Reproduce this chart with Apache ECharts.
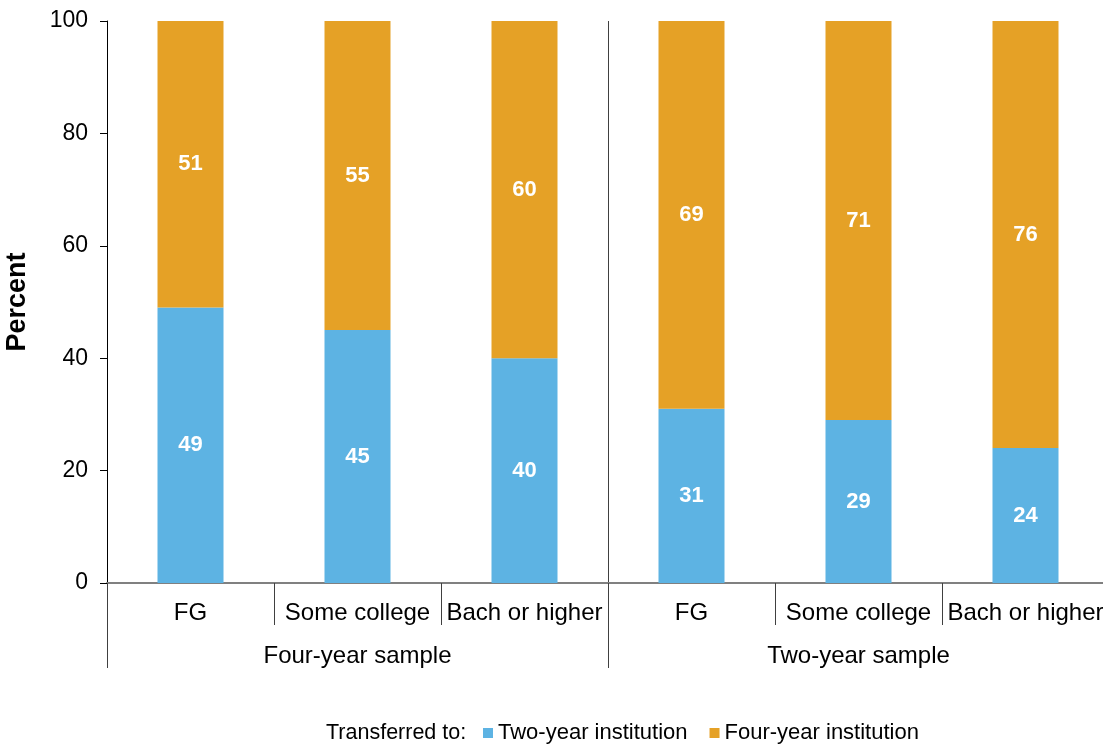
<!DOCTYPE html>
<html>
<head>
<meta charset="utf-8">
<script src="https://cdn.jsdelivr.net/npm/echarts@6/dist/echarts.min.js"></script>
<style>
html,body{margin:0;padding:0;background:#fff;}
#chart{width:1103px;height:744px;}
</style>
</head>
<body>
<div id="chart"></div>
<script>
const categories = ['FG', 'Some college', 'Bach or higher', 'FG', 'Some college', 'Bach or higher'];
const groups = ['Four-year sample', 'Two-year sample'];
const twoYear = [49, 45, 40, 31, 29, 24];
const fourYear = [51, 55, 60, 69, 71, 76];
const yTicks = [0, 20, 40, 60, 80, 100];

const FONT = '"Liberation Sans", Arial, sans-serif';
const chart = echarts.init(document.getElementById('chart'), null, {renderer: 'canvas'});
const labelStyle = {show: true, position: 'inside', color: '#fff', fontWeight: 'bold', fontSize: 22, fontFamily: FONT};

chart.setOption({
  animation: false,
  backgroundColor: '#fff',
  textStyle: {fontFamily: FONT},
  title: {
    text: 'Transferred to:',
    left: 321, top: 717,
    textStyle: {fontSize: 21.5, fontWeight: 'normal', color: '#000', fontFamily: FONT}
  },
  legend: {
    left: 478, top: 717,
    itemWidth: 10, itemHeight: 10, itemGap: 22,
    icon: 'rect',
    textStyle: {fontSize: 22, color: '#000', fontFamily: FONT},
    data: ['Two-year institution', 'Four-year institution']
  },
  grid: {left: 107, width: 1002, top: 21, bottom: 161, containLabel: false, outerBoundsMode: 'none'},
  xAxis: [
    {
      type: 'category', data: categories, position: 'bottom',
      axisLine: {show: true, lineStyle: {color: '#808080', width: 2}},
      axisTick: {show: true, length: 42, interval: 0, lineStyle: {color: '#404040'}},
      axisLabel: {interval: 0, margin: 18, fontSize: 24, color: '#000', fontFamily: FONT},
      splitLine: {show: false}
    },
    {
      type: 'category', data: groups, position: 'bottom',
      axisLine: {show: false},
      axisTick: {show: true, length: 85, interval: 0, lineStyle: {color: '#404040'}},
      axisLabel: {interval: 0, margin: 61, fontSize: 24, color: '#000', fontFamily: FONT},
      splitLine: {show: true, interval: 0, lineStyle: {color: '#404040', width: 1}}
    }
  ],
  yAxis: {
    type: 'value', min: yTicks[0], max: yTicks[yTicks.length - 1], interval: 20,
    name: 'Percent', nameLocation: 'middle', nameRotate: 90, nameGap: 76,
    nameTextStyle: {fontSize: 27, fontWeight: 'bold', color: '#000', fontFamily: FONT},
    axisLine: {show: true, lineStyle: {color: '#000', width: 1}},
    axisTick: {show: true, length: 7, lineStyle: {color: '#000'}},
    axisLabel: {margin: 19, fontSize: 23, color: '#000', fontFamily: FONT},
    splitLine: {show: false}
  },
  series: [
    {
      name: 'Two-year institution', type: 'bar', stack: 'total', xAxisIndex: 0,
      barWidth: 66, data: twoYear,
      itemStyle: {color: '#5DB3E3'}, label: labelStyle
    },
    {
      name: 'Four-year institution', type: 'bar', stack: 'total', xAxisIndex: 0,
      barWidth: 66, data: fourYear,
      itemStyle: {color: '#E5A126'}, label: labelStyle
    }
  ]
});
</script>
</body>
</html>
